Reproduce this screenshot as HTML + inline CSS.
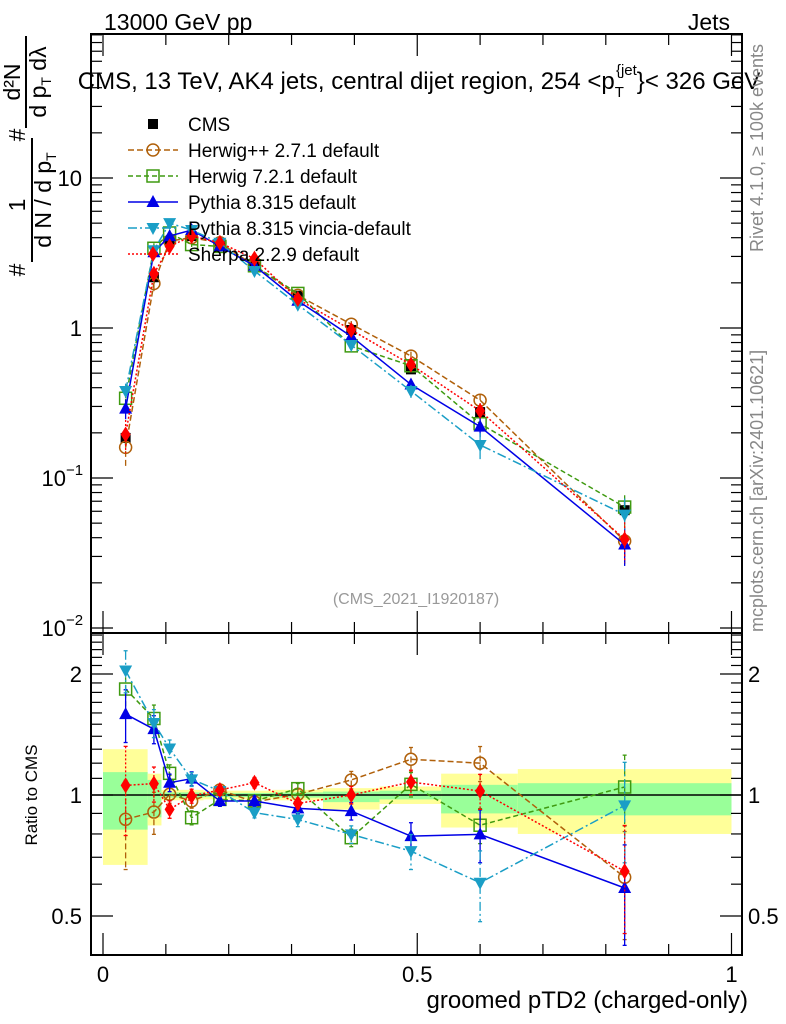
<!DOCTYPE html>
<html><head><meta charset="utf-8"><style>
body{margin:0;background:#fff;}
svg{display:block;font-family:"Liberation Sans",sans-serif;}
</style></head><body>
<svg id="c" width="786" height="1024" viewBox="0 0 786 1024">
<text x="104" y="30" font-size="23">13000 GeV pp</text>
<text x="730" y="30" font-size="23" text-anchor="end">Jets</text>
<text x="419" y="89" font-size="24" text-anchor="middle">CMS, 13 TeV, AK4 jets, central dijet region, 254 &lt;p<tspan font-size="15" dy="8">T</tspan><tspan font-size="15" dy="-22" dx="-8">{jet</tspan><tspan dy="14">}&lt; 326 GeV</tspan></text>
<text transform="translate(763,252) rotate(-90)" font-size="18" fill="#888">Rivet 4.1.0, ≥ 100k events</text>
<text transform="translate(763,632) rotate(-90)" font-size="18" fill="#888">mcplots.cern.ch [arXiv:2401.10621]</text>
<text x="416" y="604" font-size="16" fill="#999" text-anchor="middle">(CMS_2021_I1920187)</text>
<g font-size="23">
<text transform="translate(25,270) rotate(-90)" text-anchor="middle">#</text>
<text transform="translate(25,205) rotate(-90)" text-anchor="middle">1</text>
<line x1="32" y1="262" x2="32" y2="138" stroke="#000" stroke-width="2"/>
<text transform="translate(51,200) rotate(-90)" text-anchor="middle">d N / d p<tspan font-size="14" dy="5">T</tspan></text>
<text transform="translate(25,135) rotate(-90)" text-anchor="middle">#</text>
<text transform="translate(20,82) rotate(-90)" text-anchor="middle">d²N</text>
<line x1="26" y1="128" x2="26" y2="36" stroke="#000" stroke-width="2"/>
<text transform="translate(46,82) rotate(-90)" text-anchor="middle">d p<tspan font-size="14" dy="5">T</tspan><tspan dy="-5"> dλ</tspan></text>
</g>
<text transform="translate(37,795) rotate(-90)" font-size="17" text-anchor="middle">Ratio to CMS</text>
<text x="748" y="1008" font-size="24" text-anchor="end">groomed pTD2 (charged-only)</text>
<g id="g"></g>
</svg>
<script>
const xs=[0.036,0.081,0.106,0.141,0.186,0.241,0.31,0.395,0.49,0.60,0.83];
const cms=[0.185,2.18,3.8,4.1,3.6,2.7,1.64,0.97,0.53,0.275,0.061];
const cmsErr=[0.1,0.05,0.03,0.03,0.03,0.03,0.03,0.04,0.05,0.08,0.15];
const herwigpp=[0.16,1.98,3.8,4.0,3.7,2.6,1.65,1.06,0.65,0.33,0.038];
const herwig7=[0.34,3.4,4.3,3.6,3.5,2.6,1.7,0.76,0.56,0.23,0.064];
const pythia=[0.29,3.2,4.1,4.5,3.5,2.6,1.52,0.88,0.42,0.22,0.036];
const vincia=[0.38,3.3,5.0,4.5,3.7,2.4,1.43,0.77,0.38,0.166,0.057];
const sherpa=[0.195,2.3,3.5,4.1,3.7,2.9,1.56,0.97,0.57,0.28,0.039];
const rHerwigpp=[0.87,0.907,1.004,0.966,1.029,0.961,1.004,1.09,1.227,1.2,0.624];
const rHerwig7=[1.835,1.55,1.132,0.878,0.975,0.966,1.037,0.783,1.063,0.841,1.047];
const rPythia=[1.589,1.458,1.073,1.098,0.966,0.966,0.926,0.912,0.79,0.798,0.587];
const rVincia=[2.04,1.51,1.305,1.094,1.023,0.904,0.869,0.798,0.725,0.605,0.942];
const rSherpa=[1.057,1.067,0.921,0.994,1.029,1.073,0.953,1.0,1.077,1.023,0.646];
const errHerwigpp=[0.25,0.12,0.05,0.04,0.03,0.03,0.03,0.05,0.07,0.1,0.3];
const errHerwig7=[0.12,0.08,0.05,0.04,0.03,0.03,0.03,0.05,0.07,0.1,0.2];
const errPythia=[0.15,0.08,0.05,0.04,0.03,0.03,0.03,0.05,0.08,0.15,0.28];
const errVincia=[0.12,0.08,0.05,0.04,0.03,0.03,0.04,0.05,0.1,0.2,0.28];
const errSherpa=[0.25,0.1,0.05,0.04,0.03,0.03,0.03,0.05,0.07,0.1,0.3];
const binEdges=[0,0.071,0.093,0.12,0.16,0.21,0.27,0.35,0.44,0.538,0.66,1.0];
const bandYelLo=[0.67,0.84,0.97,0.97,0.975,0.975,0.97,0.92,0.95,0.83,0.80];
const bandYelHi=[1.30,1.13,1.03,1.03,1.025,1.025,1.03,1.04,1.05,1.13,1.16];
const bandGrnLo=[0.82,0.88,0.985,0.985,0.988,0.988,0.985,0.96,0.975,0.90,0.89];
const bandGrnHi=[1.14,1.09,1.015,1.015,1.012,1.012,1.015,1.02,1.025,1.06,1.07];
const yTickVals=[0.01,0.1,1,10];
const yTickLabels=["10","10","1","10"];
const yTickExp=["−2","−1","",""];
const xTickVals=[0,0.5,1];
const xTickLabels=["0","0.5","1"];
const rTickVals=[0.5,1,2];
const rTickLabels=["0.5","1","2"];

const NS="http://www.w3.org/2000/svg";
const G=document.getElementById('g');
const L=91,R=742,T=34,B=633,RT=633,RB=955;
const X=v=>103+v*628.5;
const Y=v=>178-(Math.log10(v)-1)*150;
const RY=v=>795-Math.log2(v)*121;
function el(t,a,p){const e=document.createElementNS(NS,t);for(const k in a)e.setAttribute(k,a[k]);(p||G).appendChild(e);return e;}

for(let i=0;i<bandYelLo.length;i++){
 const r=el('rect',{x:X(binEdges[i]),y:RY(bandYelHi[i]),width:X(binEdges[i+1])-X(binEdges[i]),height:RY(bandYelLo[i])-RY(bandYelHi[i]),fill:'#ffff99'});
 
 
 const g2=el('rect',{x:X(binEdges[i]),y:RY(bandGrnHi[i]),width:X(binEdges[i+1])-X(binEdges[i]),height:RY(bandGrnLo[i])-RY(bandGrnHi[i]),fill:'#99ff99'});
 
 
}
el('line',{x1:L,x2:R,y1:RY(1),y2:RY(1),stroke:'#000','stroke-width':1.5});

const f1=el('rect',{x:L,y:T,width:R-L,height:B-T,fill:'none',stroke:'#000','stroke-width':2});


const f2=el('rect',{x:L,y:RT,width:R-L,height:RB-RT,fill:'none',stroke:'#000','stroke-width':2});



for(let d=-3;d<=2;d++)for(let m=1;m<10;m++){const v=m*Math.pow(10,d);const y=Y(v);if(y<T||y>B)continue;const len=m==1?22:11;
 el('line',{x1:L,x2:L+len,y1:y,y2:y,stroke:'#000','stroke-width':1.2});el('line',{x1:R,x2:R-len,y1:y,y2:y,stroke:'#000','stroke-width':1.2});}
yTickVals.forEach((v,i)=>{const t=el('text',{x:yTickExp[i]?66:82,y:Y(v)+8,'font-size':22,'text-anchor':'end'});t.textContent=yTickLabels[i];
 
 
 if(yTickExp[i]){const s=el('text',{x:66,y:Y(v)-3,'font-size':15});s.textContent=yTickExp[i];}});
for(let v=0.4;v<2.6;v+=0.1){const y=RY(v);if(y<RT||y>RB)continue;const maj=[0.5,1,2].some(z=>Math.abs(z-v)<1e-6);const len=maj?22:11;
 el('line',{x1:L,x2:L+len,y1:y,y2:y,stroke:'#000','stroke-width':1.2});el('line',{x1:R,x2:R-len,y1:y,y2:y,stroke:'#000','stroke-width':1.2});}
rTickVals.forEach((v,i)=>{const t=el('text',{x:82,y:RY(v)+8,'font-size':22,'text-anchor':'end'});t.textContent=rTickLabels[i];
 
 
 const t2=el('text',{x:748,y:RY(v)+8,'font-size':22});t2.textContent=rTickLabels[i];
 
 });
for(let k=0;k<=10;k++){const x=X(k/10);const maj=k%5==0;const len=maj?22:11;
 [[B,-1],[T,1],[RB,-1],[RT,1]].forEach(([y,s])=>el('line',{x1:x,x2:x,y1:y,y2:y+s*len,stroke:'#000','stroke-width':1.2}));}
xTickVals.forEach((v,i)=>{const t=el('text',{x:X(v),y:982,'font-size':22,'text-anchor':'middle'});t.textContent=xTickLabels[i];
 
 });

function marker(type,x,y,c,name){let e;
 if(type=='sq')e=el('rect',{x:x-5,y:y-5,width:10,height:10,fill:'#000'});
 else if(type=='circ')e=el('circle',{cx:x,cy:y,r:6,fill:'#fff','fill-opacity':0,stroke:c,'stroke-width':1.5});
 else if(type=='osq')e=el('rect',{x:x-6,y:y-6,width:12,height:12,fill:'none',stroke:c,'stroke-width':1.5});
 else if(type=='up')e=el('path',{d:`M${x} ${y-7}L${x+6.5} ${y+5}L${x-6.5} ${y+5}Z`,fill:c});
 else if(type=='down')e=el('path',{d:`M${x} ${y+7}L${x+6.5} ${y-5}L${x-6.5} ${y-5}Z`,fill:c});
 else e=el('path',{d:`M${x} ${y-8}L${x+5} ${y}L${x} ${y+8}L${x-5} ${y}Z`,fill:c});
 
 }

const series=[
 {main:herwigpp,ratio:rHerwigpp,err:errHerwigpp,c:'#b0600a',dash:'6,3',m:'circ',name:'herwigpp'},
 {main:herwig7,ratio:rHerwig7,err:errHerwig7,c:'#3f9a10',dash:'5,3',m:'osq',name:'herwig7'},
 {main:pythia,ratio:rPythia,err:errPythia,c:'#0000e6',dash:'',m:'up',name:'pythia'},
 {main:vincia,ratio:rVincia,err:errVincia,c:'#1a9ec6',dash:'9,3,2,3',m:'down',name:'vincia'},
 {main:sherpa,ratio:rSherpa,err:errSherpa,c:'#ff0000',dash:'2,2',m:'dia',name:'sherpa'}];

cms.forEach((v,i)=>{el('line',{x1:X(xs[i]),x2:X(xs[i]),y1:Y(v*(1+cmsErr[i])),y2:Y(v*(1-cmsErr[i])),stroke:'#000','stroke-width':1.5});
 marker('sq',X(xs[i]),Y(v),'#000','cms-point');});

series.forEach(s=>{
 const pm=s.main.map((v,i)=>X(xs[i])+','+Y(v)).join(' ');
 const pl=el('polyline',{points:pm,fill:'none',stroke:s.c,'stroke-width':1.5,'stroke-dasharray':s.dash});
 
 
 const pr=s.ratio.map((v,i)=>X(xs[i])+','+RY(v)).join(' ');
 const pl2=el('polyline',{points:pr,fill:'none',stroke:s.c,'stroke-width':1.5,'stroke-dasharray':s.dash});
 
 
 s.main.forEach((v,i)=>{const x=X(xs[i]),e=s.err[i];
  el('line',{x1:x,x2:x,y1:Y(v*(1+e)),y2:Y(v*(1-e)),stroke:s.c,'stroke-width':1.3,'stroke-dasharray':s.dash});
  el('line',{x1:x,x2:x,y1:RY(s.ratio[i]*(1+e)),y2:RY(s.ratio[i]*(1-e)),stroke:s.c,'stroke-width':1.3,'stroke-dasharray':s.dash});
  [RY(s.ratio[i]*(1+e)),RY(s.ratio[i]*(1-e))].forEach(y=>el('line',{x1:x-2,x2:x+2,y1:y,y2:y,stroke:s.c,'stroke-width':1.3}));
  marker(s.m,x,Y(v),s.c,s.name+'-point');
  marker(s.m,x,RY(s.ratio[i]),s.c,s.name+'-ratio-point');});
});

const legNames=['CMS','Herwig++ 2.7.1 default','Herwig 7.2.1 default','Pythia 8.315 default','Pythia 8.315 vincia-default','Sherpa 2.2.9 default'];
legNames.forEach((n,i)=>{const y=124+i*26;
 if(i>0){const s=series[i-1];el('line',{x1:128,x2:178,y1:y,y2:y,stroke:s.c,'stroke-width':1.5,'stroke-dasharray':s.dash});marker(s.m,153,y,s.c,'legend-marker');}
 else marker('sq',153,y,'#000','legend-marker');
 const t=el('text',{x:188,y:y+7,'font-size':19});t.textContent=n;
 
 });
</script>
</body></html>
